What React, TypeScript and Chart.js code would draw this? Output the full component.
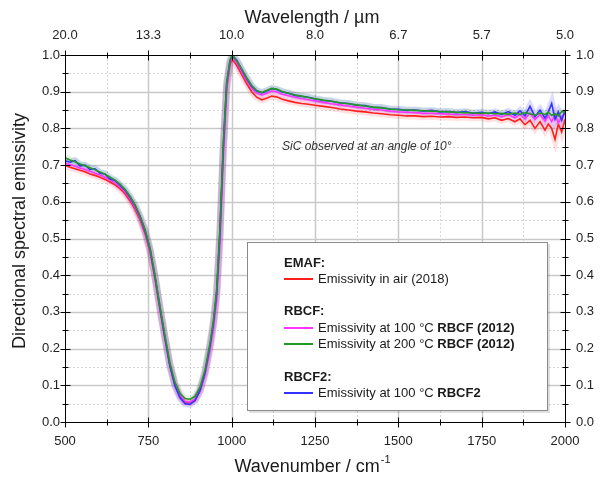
import React, { useEffect, useRef } from 'react';
import { Chart, registerables } from 'chart.js';
Chart.register(...registerables);

// ---- data ----
const wavenumbers = [
  500, 515, 530, 545, 560, 575, 590, 605, 620, 635, 650, 665, 680, 695, 710, 725, 740,
  755, 770, 785, 800, 815, 830, 845, 860, 875, 890, 905, 920, 935,
  945, 955, 965, 975, 985, 995, 1000, 1005,
  1015, 1030, 1045, 1060, 1075, 1090, 1105, 1120, 1135, 1150,
  1170, 1190, 1210, 1230, 1250,
  1275, 1300, 1325, 1350, 1375, 1400, 1425, 1450, 1475, 1500, 1525, 1550, 1575, 1600,
  1625, 1650, 1675, 1700, 1725, 1750,
  1770, 1790, 1810, 1830, 1850, 1865, 1880, 1895, 1910, 1925, 1940,
  1950, 1960, 1970, 1980, 1990, 2000,
];

const emafAir = [
  0.700, 0.694, 0.690, 0.686, 0.682, 0.676, 0.672, 0.667, 0.661, 0.654, 0.646, 0.636, 0.622, 0.603, 0.580, 0.551, 0.514,
  0.464, 0.390, 0.306, 0.226, 0.152, 0.100, 0.070, 0.054, 0.052, 0.060, 0.084, 0.132, 0.205,
  0.265, 0.350, 0.515, 0.745, 0.910, 0.975, 0.985, 0.984,
  0.972, 0.947, 0.922, 0.900, 0.885, 0.878, 0.882, 0.888, 0.886, 0.880,
  0.875, 0.871, 0.868, 0.866, 0.863,
  0.860, 0.857, 0.853, 0.850, 0.847, 0.845, 0.842, 0.840, 0.837, 0.836, 0.834, 0.834, 0.832, 0.833,
  0.831, 0.832, 0.830, 0.831, 0.829, 0.830,
  0.826, 0.829, 0.822, 0.827, 0.818, 0.826, 0.810, 0.822, 0.800, 0.818, 0.795,
  0.812, 0.800, 0.770, 0.812, 0.790, 0.825,
];

const rbcf100 = [
  0.705, 0.701, 0.697, 0.692, 0.688, 0.683, 0.678, 0.673, 0.667, 0.660, 0.652, 0.641, 0.627, 0.608, 0.585, 0.556, 0.518,
  0.468, 0.394, 0.310, 0.230, 0.156, 0.103, 0.072, 0.056, 0.054, 0.062, 0.084, 0.128, 0.196,
  0.252, 0.332, 0.490, 0.720, 0.905, 0.978, 0.990, 0.990,
  0.980, 0.955, 0.930, 0.910, 0.896, 0.891, 0.896, 0.902, 0.900, 0.894,
  0.889, 0.885, 0.881, 0.878, 0.875,
  0.871, 0.867, 0.864, 0.861, 0.858, 0.855, 0.852, 0.850, 0.847, 0.845, 0.844, 0.843, 0.841, 0.841,
  0.840, 0.839, 0.838, 0.838, 0.836, 0.837,
  0.834, 0.836, 0.832, 0.837, 0.829, 0.838, 0.826, 0.842, 0.824, 0.838, 0.820,
  0.835, 0.818, 0.838, 0.815, 0.832, 0.840,
];

const rbcf200 = [
  0.720, 0.714, 0.709, 0.703, 0.698, 0.693, 0.687, 0.681, 0.675, 0.667, 0.659, 0.648, 0.634, 0.615, 0.592, 0.562, 0.525,
  0.475, 0.400, 0.315, 0.235, 0.160, 0.108, 0.078, 0.064, 0.062, 0.070, 0.095, 0.142, 0.215,
  0.275, 0.360, 0.530, 0.760, 0.925, 0.985, 0.997, 0.996,
  0.985, 0.962, 0.938, 0.917, 0.903, 0.898, 0.903, 0.909, 0.907, 0.901,
  0.896, 0.891, 0.888, 0.884, 0.881,
  0.877, 0.874, 0.870, 0.867, 0.864, 0.861, 0.858, 0.856, 0.853, 0.851, 0.850, 0.849, 0.848, 0.847,
  0.846, 0.845, 0.844, 0.843, 0.842, 0.841,
  0.842, 0.840, 0.841, 0.839, 0.842, 0.838, 0.843, 0.840, 0.836, 0.842, 0.838,
  0.844, 0.835, 0.840, 0.834, 0.846, 0.845,
];

const rbcf2At100 = [
  0.712, 0.708, 0.712, 0.698, 0.700, 0.688, 0.690, 0.678, 0.676, 0.662, 0.658, 0.645, 0.632, 0.612, 0.590, 0.560, 0.522,
  0.472, 0.396, 0.310, 0.228, 0.152, 0.098, 0.066, 0.050, 0.048, 0.058, 0.086, 0.135, 0.208,
  0.268, 0.352, 0.520, 0.752, 0.922, 0.984, 0.997, 0.996,
  0.986, 0.961, 0.936, 0.915, 0.902, 0.897, 0.902, 0.908, 0.906, 0.900,
  0.896, 0.890, 0.887, 0.885, 0.880,
  0.876, 0.874, 0.869, 0.868, 0.863, 0.862, 0.857, 0.857, 0.852, 0.852, 0.849, 0.850, 0.847, 0.849,
  0.845, 0.846, 0.843, 0.846, 0.841, 0.844,
  0.840, 0.845, 0.838, 0.846, 0.836, 0.848, 0.834, 0.860, 0.832, 0.850, 0.828,
  0.845, 0.868, 0.825, 0.845, 0.822, 0.848,
];

const bottomTickValues = [500, 750, 1000, 1250, 1500, 1750, 2000];
const topTickLabels = ['20.0', '13.3', '10.0', '8.0', '6.7', '5.7', '5.0'];
const yTickValues = [0, 0.1, 0.2, 0.3, 0.4, 0.5, 0.6, 0.7, 0.8, 0.9, 1.0];

const xTitle = 'Wavenumber / cm';
const xTitleSup = '-1';
const topTitle = 'Wavelength / µm';
const yTitle = 'Directional spectral emissivity';
const note = 'SiC observed at an angle of 10°';

const COL_RED = '#ff1f1f';
const COL_MAG = '#ff33ff';
const COL_GREEN = '#229922';
const COL_BLUE = '#3333ff';

const FONT = '"Liberation Sans", Arial, Helvetica, sans-serif';

const customPlugin = {
  id: 'customDecor',
  beforeDatasetsDraw(chart: any) {
    const { ctx, chartArea: a, scales } = chart;
    const x = scales.x;
    const y = scales.y;
    ctx.save();
    // minor dotted grid
    ctx.strokeStyle = '#d6d6d6';
    ctx.lineWidth = 1;
    ctx.setLineDash([2, 2]);
    for (let i = 0; i < bottomTickValues.length - 1; i++) {
      const v = (bottomTickValues[i] + bottomTickValues[i + 1]) / 2;
      const px = Math.round(x.getPixelForValue(v)) + 0.5;
      ctx.beginPath(); ctx.moveTo(px, a.top); ctx.lineTo(px, a.bottom); ctx.stroke();
    }
    for (let i = 0; i < yTickValues.length - 1; i++) {
      const v = (yTickValues[i] + yTickValues[i + 1]) / 2;
      const py = Math.round(y.getPixelForValue(v)) + 0.5;
      ctx.beginPath(); ctx.moveTo(a.left, py); ctx.lineTo(a.right, py); ctx.stroke();
    }
    ctx.setLineDash([]);
    // major grid
    ctx.strokeStyle = '#c9c9c9';
    ctx.lineWidth = 1.5;
    for (let i = 1; i < bottomTickValues.length - 1; i++) {
      const px = Math.round(x.getPixelForValue(bottomTickValues[i])) + 0.5;
      ctx.beginPath(); ctx.moveTo(px, a.top); ctx.lineTo(px, a.bottom); ctx.stroke();
    }
    for (let i = 1; i < yTickValues.length - 1; i++) {
      const py = Math.round(y.getPixelForValue(yTickValues[i])) + 0.5;
      ctx.beginPath(); ctx.moveTo(a.left, py); ctx.lineTo(a.right, py); ctx.stroke();
    }
    ctx.restore();
  },
  afterDraw(chart: any) {
    const { ctx, chartArea: a, scales } = chart;
    const x = scales.x;
    const y = scales.y;
    ctx.save();
    // axis frame
    ctx.strokeStyle = '#000';
    ctx.lineWidth = 1;
    const L = Math.round(a.left) + 0.5, R = Math.round(a.right) + 0.5;
    const T = Math.round(a.top) + 0.5, B = Math.round(a.bottom) + 0.5;
    ctx.strokeRect(L, T, R - L, B - T);
    // ticks
    const tick = (x1: number, y1: number, x2: number, y2: number) => {
      ctx.beginPath(); ctx.moveTo(x1, y1); ctx.lineTo(x2, y2); ctx.stroke();
    };
    for (let i = 0; i < bottomTickValues.length; i++) {
      const px = Math.round(x.getPixelForValue(bottomTickValues[i])) + 0.5;
      tick(px, B - 5, px, B + 5);
      tick(px, T - 5, px, T + 5);
      if (i < bottomTickValues.length - 1) {
        const pm = Math.round(x.getPixelForValue((bottomTickValues[i] + bottomTickValues[i + 1]) / 2)) + 0.5;
        tick(pm, B - 3, pm, B + 3);
        tick(pm, T - 3, pm, T + 3);
      }
    }
    for (let i = 0; i < yTickValues.length; i++) {
      const py = Math.round(y.getPixelForValue(yTickValues[i])) + 0.5;
      tick(L - 5, py, L + 5, py);
      tick(R - 5, py, R + 5, py);
      if (i < yTickValues.length - 1) {
        const pm = Math.round(y.getPixelForValue((yTickValues[i] + yTickValues[i + 1]) / 2)) + 0.5;
        tick(L - 3, pm, L + 3, pm);
        tick(R - 3, pm, R + 3, pm);
      }
    }

    // titles
    ctx.fillStyle = '#1a1a1a';
    ctx.textBaseline = 'middle';
    ctx.textAlign = 'center';
    ctx.font = `18px ${FONT}`;
    ctx.fillText(topTitle, 312, 18);
    // bottom title with superscript
    ctx.font = `18px ${FONT}`;
    const w1 = ctx.measureText(xTitle).width;
    ctx.font = `11px ${FONT}`;
    const w2 = ctx.measureText(xTitleSup).width;
    const sx = 312 - (w1 + w2) / 2;
    ctx.textAlign = 'left';
    ctx.font = `18px ${FONT}`;
    ctx.fillText(xTitle, sx, 467);
    ctx.font = `11px ${FONT}`;
    ctx.fillText(xTitleSup, sx + w1 + 1, 460);
    // y title
    ctx.save();
    ctx.translate(20, 231);
    ctx.rotate(-Math.PI / 2);
    ctx.textAlign = 'center';
    ctx.font = `18px ${FONT}`;
    ctx.fillText(yTitle, 0, 0);
    ctx.restore();

    // annotation
    ctx.font = `italic 12px ${FONT}`;
    ctx.fillStyle = '#333';
    ctx.textAlign = 'left';
    ctx.fillText(note, 282, 147);

    // legend box
    ctx.fillStyle = 'rgba(0,0,0,0.12)';
    ctx.fillRect(249, 244, 301, 169);
    ctx.fillStyle = '#ffffff';
    ctx.fillRect(247, 242, 301, 169);
    ctx.strokeStyle = '#8a8a8a';
    ctx.lineWidth = 1;
    ctx.strokeRect(247.5, 242.5, 300, 168);

    const lx0 = 284, lx1 = 313, tx = 318;
    const heading = (t: string, yy: number) => {
      ctx.font = `bold 13px ${FONT}`;
      ctx.fillStyle = '#1a1a1a';
      ctx.fillText(t, lx0, yy);
    };
    const entry = (col: string, normal: string, bold: string, yy: number) => {
      ctx.strokeStyle = col;
      ctx.lineWidth = 2;
      ctx.beginPath(); ctx.moveTo(lx0, yy); ctx.lineTo(lx1, yy); ctx.stroke();
      ctx.fillStyle = '#1a1a1a';
      ctx.font = `13px ${FONT}`;
      ctx.fillText(normal, tx, yy);
      if (bold) {
        const w = ctx.measureText(normal).width;
        ctx.font = `bold 13px ${FONT}`;
        ctx.fillText(bold, tx + w, yy);
      }
    };
    heading('EMAF:', 263);
    entry(COL_RED, 'Emissivity in air (2018)', '', 279);
    heading('RBCF:', 311);
    entry(COL_MAG, 'Emissivity at 100 °C ', 'RBCF (2012)', 328);
    entry(COL_GREEN, 'Emissivity at 200 °C ', 'RBCF (2012)', 344);
    heading('RBCF2:', 377);
    entry(COL_BLUE, 'Emissivity at 100 °C ', 'RBCF2', 393);
    ctx.restore();
  },
};

export default function App() {
  const ref = useRef<HTMLCanvasElement | null>(null);
  useEffect(() => {
    if (!ref.current) return;
    Chart.defaults.font.family = FONT;
    const mk = (d: number[]) => wavenumbers.map((w, i) => ({ x: w, y: d[i] }));
    const line = (label: string, d: number[], col: string, order: number) => ({
      label, data: mk(d), borderColor: col, backgroundColor: col, borderWidth: 1.6,
      pointRadius: 0, fill: false, tension: 0, order,
    });
    const band = (label: string, d: number[], col: string, order: number) => ({
      label, data: mk(d), borderColor: col, backgroundColor: col, borderWidth: 7,
      pointRadius: 0, fill: false, tension: 0, order,
    });
    const tickFont = { size: 13, family: FONT };
    const chart = new Chart(ref.current, {
      type: 'line',
      data: {
        datasets: [
          band('b-red', emafAir, 'rgba(255,60,60,0.16)', 9),
          band('b-mag', rbcf100, 'rgba(255,80,255,0.16)', 8),
          band('b-blue', rbcf2At100, 'rgba(80,80,255,0.2)', 7),
          band('b-green', rbcf200, 'rgba(40,160,40,0.12)', 6),
          line('Emissivity in air (2018)', emafAir, COL_RED, 4),
          line('Emissivity at 100 °C RBCF (2012)', rbcf100, COL_MAG, 3),
          line('Emissivity at 100 °C RBCF2', rbcf2At100, COL_BLUE, 2),
          line('Emissivity at 200 °C RBCF (2012)', rbcf200, COL_GREEN, 1),
        ],
      } as any,
      options: {
        animation: false,
        responsive: false,
        maintainAspectRatio: false,
        devicePixelRatio: 1,
        layout: { padding: 0 },
        plugins: { legend: { display: false }, tooltip: { enabled: false } },
        scales: {
          x: {
            type: 'linear', position: 'bottom', min: 500, max: 2000,
            afterBuildTicks: (s: any) => { s.ticks = bottomTickValues.map((v) => ({ value: v })); },
            ticks: { font: tickFont, color: '#222', padding: 12, maxRotation: 0, autoSkip: false,
              callback: (v: any) => String(v) },
            grid: { display: false, drawTicks: false },
            border: { display: false },
            afterFit: (s: any) => { s.height = 57; },
          },
          x2: {
            type: 'linear', position: 'top', min: 500, max: 2000,
            afterBuildTicks: (s: any) => { s.ticks = bottomTickValues.map((v) => ({ value: v })); },
            ticks: { font: tickFont, color: '#222', padding: 12, maxRotation: 0, autoSkip: false,
              callback: (v: any) => topTickLabels[bottomTickValues.indexOf(Number(v))] ?? '' },
            grid: { display: false, drawTicks: false },
            border: { display: false },
            afterFit: (s: any) => { s.height = 55; },
          },
          y: {
            type: 'linear', position: 'left', min: 0, max: 1,
            afterBuildTicks: (s: any) => { s.ticks = yTickValues.map((v) => ({ value: v })); },
            ticks: { font: tickFont, color: '#222', padding: 5, autoSkip: false,
              callback: (v: any) => Number(v).toFixed(1) },
            grid: { display: false, drawTicks: false },
            border: { display: false },
            afterFit: (s: any) => { s.width = 65; },
          },
          y2: {
            type: 'linear', position: 'right', min: 0, max: 1,
            afterBuildTicks: (s: any) => { s.ticks = yTickValues.map((v) => ({ value: v })); },
            ticks: { font: tickFont, color: '#222', padding: 11, autoSkip: false,
              callback: (v: any) => Number(v).toFixed(1) },
            grid: { display: false, drawTicks: false },
            border: { display: false },
            afterFit: (s: any) => { s.width = 42; },
          },
        },
      } as any,
      plugins: [customPlugin as any],
    });
    return () => chart.destroy();
  }, []);
  return (
    <div style={{ position: 'fixed', left: 0, top: 0, width: 607, height: 479, background: '#fff' }}>
      <canvas ref={ref} width={607} height={479} style={{ width: 607, height: 479, display: 'block' }} />
    </div>
  );
}
